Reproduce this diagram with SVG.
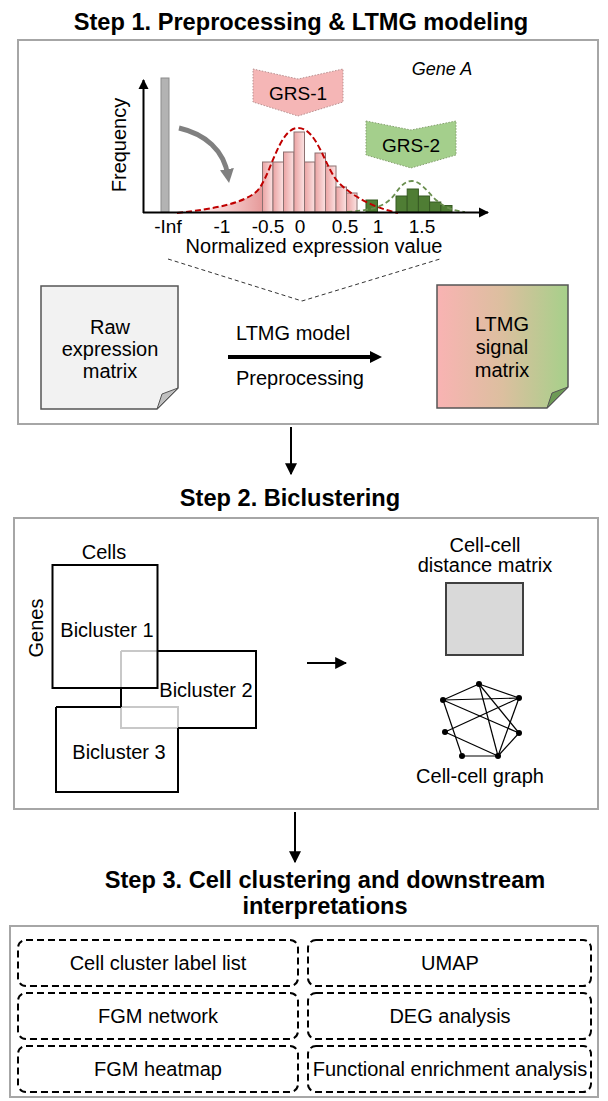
<svg xmlns="http://www.w3.org/2000/svg" width="608" height="1101" viewBox="0 0 608 1101">
<style>
text{font-family:"Liberation Sans",Arial,sans-serif;fill:#000}
.t{font-size:23.6px;font-weight:bold;text-anchor:middle}
.l{font-size:20px;text-anchor:middle}
.ax{font-size:19px;text-anchor:middle}
.frame{fill:#fff;stroke:#a6a6a6;stroke-width:2}
.bk{fill:none;stroke:#000;stroke-width:2}
.gr{fill:none;stroke:#c8c8c8;stroke-width:2}
.dash{fill:#fff;stroke:#000;stroke-width:2;stroke-dasharray:7 4}
.pb{fill:url(#barPink);stroke:#8c7070;stroke-width:1}
.gb{fill:#4f7d34;stroke:#375a23;stroke-width:1}
.e{stroke:#000;stroke-width:1.2}
</style>
<defs>
<linearGradient id="barPink" x1="0" y1="0" x2="1" y2="0"><stop offset="0" stop-color="#eba3a3"/><stop offset="1" stop-color="#fbe2e2"/></linearGradient>
<linearGradient id="tail" x1="178" y1="0" x2="262" y2="0" gradientUnits="userSpaceOnUse"><stop offset="0" stop-color="#f4b8b8" stop-opacity="0"/><stop offset="1" stop-color="#e69a9a"/></linearGradient>
<linearGradient id="ltmg" x1="0" y1="0" x2="1" y2="0"><stop offset="0" stop-color="#f9b3b3"/><stop offset="0.5" stop-color="#dcbf9f"/><stop offset="1" stop-color="#a6d08a"/></linearGradient>
<marker id="ah" viewBox="0 0 10 10" refX="9" refY="5" markerWidth="10" markerHeight="12" markerUnits="userSpaceOnUse" orient="auto"><path d="M0,0 L10,5 L0,10 Z" fill="#000"/></marker>
<marker id="ahs" viewBox="0 0 10 10" refX="9" refY="5" markerWidth="12" markerHeight="12" markerUnits="userSpaceOnUse" orient="auto"><path d="M0,0 L10,5 L0,10 Z" fill="#000"/></marker>
<marker id="ahg" viewBox="0 0 10 10" refX="5" refY="5" markerWidth="14" markerHeight="14" markerUnits="userSpaceOnUse" orient="auto"><path d="M0,0 L10,5 L0,10 Z" fill="#808080"/></marker>
</defs>
<rect width="608" height="1101" fill="#fff"/>

<g id="step1">
<text class="t" x="301" y="30">Step 1. Preprocessing &amp; LTMG modeling</text>
<rect class="frame" x="18" y="40" width="580" height="384"/>
</g>

<g id="histogram">
<path d="M177,213 C215,209 243,203 256,192 C258,190 260,187 262,184 L262,212 Z" fill="url(#tail)"/>
<rect class="pb" x="262.5" y="162" width="10.5" height="50"/>
<rect class="pb" x="273" y="162" width="10.5" height="50"/>
<rect class="pb" x="283.5" y="152" width="10.5" height="60"/>
<rect class="pb" x="294" y="132" width="10.5" height="80"/>
<rect class="pb" x="304.5" y="162" width="10.5" height="50"/>
<rect class="pb" x="315" y="153" width="10.5" height="59"/>
<rect class="pb" x="325.5" y="166" width="10.5" height="46"/>
<rect class="pb" x="336" y="187" width="10.5" height="25"/>
<rect class="pb" x="346.5" y="193" width="10.5" height="19"/>
<rect class="gb" x="366" y="200" width="11.5" height="12"/>
<rect class="gb" x="396" y="196" width="11.2" height="16"/>
<rect class="gb" x="407.2" y="189" width="11.2" height="23"/>
<rect class="gb" x="418.4" y="196" width="11.2" height="16"/>
<rect class="gb" x="429.6" y="202" width="11.2" height="10"/>
<rect class="gb" x="440.8" y="205.5" width="11.2" height="6.5"/>
<path d="M177,213 C215,209 243,203 256,192 C270,180 278,128 298,128 C318,128 325,170 340,184 C355,198 375,208 398,213" fill="none" stroke="#c00000" stroke-width="2" stroke-dasharray="6 3"/>
<path d="M347,212 C370,210 385,208 395,194 C402,184 406,181 412,181 C420,181 426,190 436,200 C445,208 455,211 465,212" fill="none" stroke="#6b8f50" stroke-width="1.8" stroke-dasharray="5 3"/>
<rect x="161" y="78" width="8" height="134" fill="#b3b3b3" stroke="#8c8c8c" stroke-width="1"/>
<line x1="143.5" y1="213" x2="143.5" y2="80" stroke="#000" stroke-width="2" marker-end="url(#ah)"/>
<line x1="143" y1="212.5" x2="488" y2="212.5" stroke="#000" stroke-width="2" marker-end="url(#ah)"/>
<path d="M179,128 C205,134 224,150 228,176" fill="none" stroke="#808080" stroke-width="5" marker-end="url(#ahg)"/>
<text class="l" transform="translate(126,145) rotate(-90)">Frequency</text>
<text x="442" y="75" font-size="18" font-style="italic" text-anchor="middle">Gene A</text>
<text class="ax" x="168" y="233">-Inf</text>
<text class="ax" x="222" y="233">-1</text>
<text class="ax" x="268" y="233">-0.5</text>
<text class="ax" x="300" y="233">0</text>
<text class="ax" x="345" y="233">0.5</text>
<text class="ax" x="378" y="233">1</text>
<text class="ax" x="422" y="233">1.5</text>
<text class="l" x="314" y="253">Normalized expression value</text>
</g>

<g id="grs1">
<polygon points="253,69 298,79 343,69 343,102 298,116 253,102" fill="#f5b6b6" stroke="#b89090" stroke-width="1" stroke-dasharray="1.5 1.5"/>
<text class="ax" x="298" y="100">GRS-1</text>
</g>
<g id="grs2">
<polygon points="366,121 411,130 456,121 456,155 411,168 366,155" fill="#a4cf8c" stroke="#86a070" stroke-width="1" stroke-dasharray="1.5 1.5"/>
<text class="ax" x="411" y="152">GRS-2</text>
</g>

<path d="M168,259 L302,301 L440,259" fill="none" stroke="#333" stroke-width="1" stroke-dasharray="4 3"/>

<g id="raw">
<path d="M41,286 L178,286 L178,388 L157,409 L41,409 Z" fill="#f2f2f2" stroke="#555" stroke-width="1.5"/>
<path d="M178,388 L162,394 L157,409 Z" fill="#c0c0c0" stroke="#555" stroke-width="1"/>
<text class="l" x="110" y="334">Raw</text>
<text class="l" x="110" y="356">expression</text>
<text class="l" x="110" y="378">matrix</text>
</g>

<g id="ltmgdoc">
<path d="M437,285 L568,285 L568,387 L547,408 L437,408 Z" fill="url(#ltmg)" stroke="#555" stroke-width="1.5"/>
<path d="M568,387 L552,393 L547,408 Z" fill="#6d9a56" stroke="#555" stroke-width="1"/>
<text class="l" x="502" y="331">LTMG</text>
<text class="l" x="502" y="354">signal</text>
<text class="l" x="502" y="377">matrix</text>
</g>

<g id="ltmgarrow">
<line x1="228" y1="357" x2="372" y2="357" stroke="#000" stroke-width="4"/>
<path d="M370,351 L382,357 L370,363 Z" fill="#000"/>
<text x="236" y="340" font-size="20">LTMG model</text>
<text x="236" y="385" font-size="20">Preprocessing</text>
</g>

<g id="step2">
<text class="t" x="290" y="506">Step 2. Biclustering</text>
<rect class="frame" x="14" y="518" width="584" height="291"/>
</g>

<g id="biclusters">
<text class="l" x="104" y="559">Cells</text>
<text class="l" transform="translate(43,628) rotate(-90)">Genes</text>
<path class="gr" d="M121,651 H157.5 M121,651 V688 M121,707 V728 H178 M121,707 H178 V728"/>
<rect class="bk" x="52.5" y="565" width="105" height="123"/>
<path class="bk" d="M157.5,651 H256 V728 H178 M121,688 V707 M56,707 H121 M178,728 V792 H56 V707"/>
<text class="l" x="107" y="637">Bicluster 1</text>
<text class="l" x="206" y="697">Bicluster 2</text>
<text class="l" x="119" y="759">Bicluster 3</text>
</g>

<g id="distmatrix">
<text class="l" x="485" y="552">Cell-cell</text>
<text class="l" x="485" y="572">distance matrix</text>
<rect x="446" y="583" width="77" height="72" fill="#d9d9d9" stroke="#404040" stroke-width="2"/>
</g>

<g id="graph">
<line class="e" x1="479" y1="684" x2="443" y2="700"/>
<line class="e" x1="479" y1="684" x2="519" y2="698"/>
<line class="e" x1="479" y1="684" x2="519" y2="733"/>
<line class="e" x1="479" y1="684" x2="498" y2="756"/>
<line class="e" x1="443" y1="700" x2="519" y2="698"/>
<line class="e" x1="443" y1="700" x2="519" y2="733"/>
<line class="e" x1="443" y1="700" x2="462" y2="756"/>
<line class="e" x1="519" y1="698" x2="445" y2="732"/>
<line class="e" x1="519" y1="698" x2="498" y2="756"/>
<line class="e" x1="445" y1="732" x2="498" y2="756"/>
<line class="e" x1="519" y1="733" x2="498" y2="756"/>
<line class="e" x1="462" y1="756" x2="498" y2="756"/>
<g fill="#000">
<circle cx="479" cy="684" r="3"/><circle cx="443" cy="700" r="3"/><circle cx="519" cy="698" r="3"/>
<circle cx="445" cy="732" r="3"/><circle cx="519" cy="733" r="3"/><circle cx="462" cy="756" r="3"/><circle cx="498" cy="756" r="3"/>
</g>
<text class="l" x="480" y="783">Cell-cell graph</text>
</g>

<g id="step3">
<text class="t" x="325" y="888">Step 3. Cell clustering and downstream</text>
<text class="t" x="325" y="914">interpretations</text>
<rect class="frame" x="10" y="926" width="588" height="171"/>
</g>
<g id="o1"><rect class="dash" x="18" y="940" width="280" height="46" rx="8"/><text class="l" x="158" y="970">Cell cluster label list</text></g>
<g id="o2"><rect class="dash" x="308" y="940" width="283" height="46" rx="8"/><text class="l" x="450" y="970">UMAP</text></g>
<g id="o3"><rect class="dash" x="18" y="993" width="280" height="46" rx="8"/><text class="l" x="158" y="1023">FGM network</text></g>
<g id="o4"><rect class="dash" x="308" y="993" width="283" height="46" rx="8"/><text class="l" x="450" y="1023">DEG analysis</text></g>
<g id="o5"><rect class="dash" x="18" y="1046" width="280" height="46" rx="8"/><text class="l" x="158" y="1076">FGM heatmap</text></g>
<g id="o6"><rect class="dash" x="308" y="1046" width="283" height="46" rx="8"/><text class="l" x="450" y="1076">Functional enrichment analysis</text></g>

<g id="connectors">
<line x1="291" y1="427" x2="291" y2="474" stroke="#000" stroke-width="2" marker-end="url(#ahs)"/>
<line x1="307" y1="663" x2="346" y2="663" stroke="#000" stroke-width="2" marker-end="url(#ahs)"/>
<line x1="295" y1="812" x2="295" y2="862" stroke="#000" stroke-width="2" marker-end="url(#ahs)"/>
</g>
</svg>
